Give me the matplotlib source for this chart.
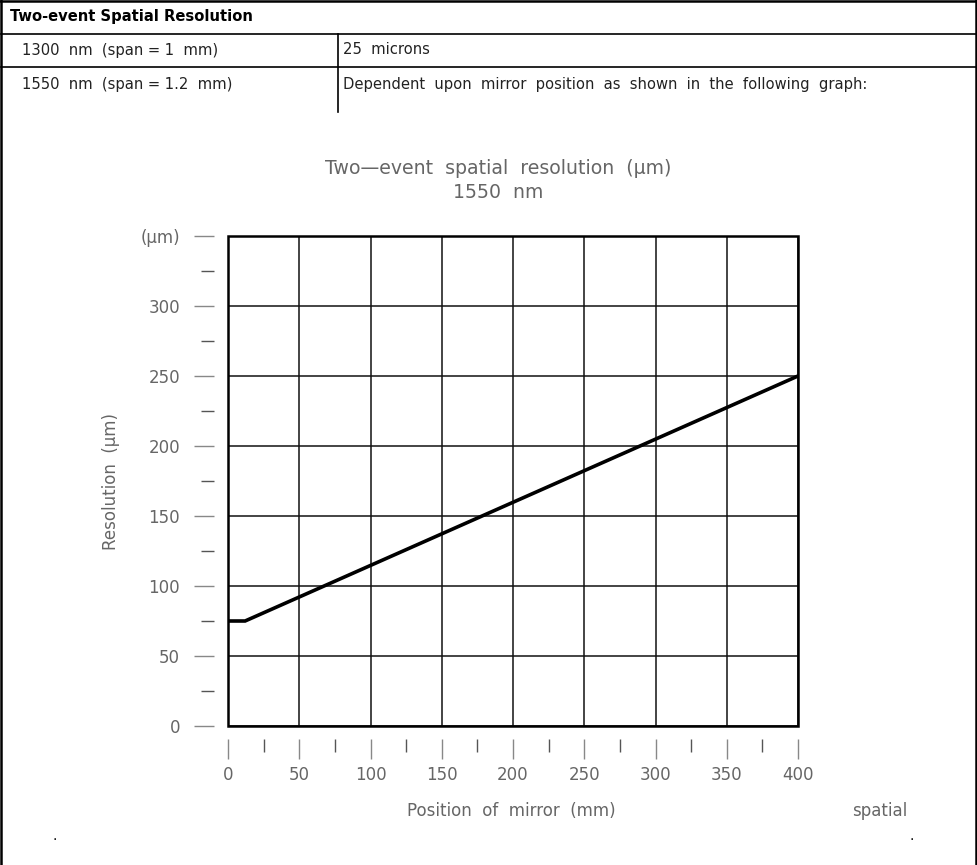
import matplotlib.pyplot as plt
import matplotlib.patches as mpatches
from matplotlib.ticker import MultipleLocator
import numpy as np

# data
position_mm = [0, 12, 400]
resolution_um = [75, 75, 250]

x_ticks = [0, 50, 100, 150, 200, 250, 300, 350, 400]
y_ticks = [0, 50, 100, 150, 200, 250, 300, 350]
y_tick_labels = ["0", "50", "100", "150", "200", "250", "300", "(\u03bcm)"]

table_header = "Two-event Spatial Resolution"
table_rows = [
    ("1300  nm  (span = 1  mm)", "25  microns"),
    ("1550  nm  (span = 1.2  mm)", "Dependent  upon  mirror  position  as  shown  in  the  following  graph:"),
]

W, H = 977, 865
GRAY = "#666666"

fig = plt.figure(figsize=(W / 100, H / 100), dpi=100, facecolor="w")


def fx(px):
    return px / W


def fy(py):
    return 1 - py / H


# table frame and rules (no bottom edge, the page continues)
for xs, ys in [([1, 1], [0, 866]), ([976, 976], [0, 866]), ([0, 977], [1, 1])]:
    fig.add_artist(plt.Line2D([fx(v) for v in xs], [fy(v) for v in ys], transform=fig.transFigure,
                              color="black", linewidth=1.8))
for yy in [34, 67]:
    fig.add_artist(plt.Line2D([fx(1), fx(976)], [fy(yy), fy(yy)], transform=fig.transFigure,
                              color="black", linewidth=1.2))
fig.add_artist(plt.Line2D([fx(338), fx(338)], [fy(34), fy(112)], transform=fig.transFigure,
                          color="black", linewidth=1.2))

fig.text(fx(10), fy(17), table_header, family="DejaVu Sans", stretch="condensed",
         fontweight="bold", fontsize=11.8, va="center", ha="left", color="black")
for i, (left, right) in enumerate(table_rows):
    yy = fy(50 + 34 * i)
    fig.text(fx(22), yy, left, family="DejaVu Sans", stretch="condensed", fontsize=11.8,
             va="center", ha="left", color="#222")
    fig.text(fx(343), yy, right, family="DejaVu Sans", stretch="condensed", fontsize=11.8,
             va="center", ha="left", color="#222")

# graph
ax = fig.add_axes([fx(228), 139 / H, 570 / W, 490 / H])
ax.plot(position_mm, resolution_um, color="black", linewidth=2.6, solid_joinstyle="miter", zorder=3)

ax.set_xlim(0, 400)
ax.set_ylim(0, 350)
ax.set_xticks(x_ticks)
ax.set_xticklabels([str(v) for v in x_ticks])
ax.set_yticks(y_ticks)
ax.set_yticklabels(y_tick_labels)
ax.xaxis.set_minor_locator(MultipleLocator(25))
ax.yaxis.set_minor_locator(MultipleLocator(25))
ax.grid(True, which="major", color="#111111", linewidth=1.1)

for side in ["top", "right", "left", "bottom"]:
    ax.spines[side].set_visible(False)
ax.spines["left"].set_position(("outward", 10))
ax.spines["bottom"].set_position(("outward", 9))
ax.add_patch(mpatches.Rectangle((0, 0), 1, 1, transform=ax.transAxes, fill=False,
                                edgecolor="black", linewidth=1.8, clip_on=False, zorder=4))

ax.tick_params(axis="y", which="major", direction="out", length=14.5, width=1, color="#888",
               pad=10, labelsize=12, labelcolor=GRAY)
ax.tick_params(axis="y", which="minor", direction="out", length=9.5, width=1, color="#555")
ax.tick_params(axis="x", which="major", direction="out", length=14.5, width=1, color="#888",
               pad=5, labelsize=12, labelcolor=GRAY)
ax.tick_params(axis="x", which="minor", direction="out", length=9.5, width=1, color="#555")

ax.set_ylabel("Resolution  (\u03bcm)", fontsize=12, color=GRAY)
ax.yaxis.set_label_coords(-0.19, 0.5)

fig.text(fx(498), fy(168), "Two\u2014event  spatial  resolution  (\u03bcm)", fontsize=13.6,
         color=GRAY, ha="center", va="center")
fig.text(fx(498), fy(193), "1550  nm", fontsize=13.6, color=GRAY, ha="center", va="center")
fig.text(fx(511), fy(811), "Position  of  mirror  (mm)", fontsize=12, color=GRAY,
         ha="center", va="center")
fig.text(fx(880), fy(811), "spatial", fontsize=12, color=GRAY, ha="center", va="center")
fig.text(fx(55), fy(836), ".", fontsize=10, color="black", ha="center", va="center")
fig.text(fx(912), fy(836), ".", fontsize=10, color="black", ha="center", va="center")

fig.savefig("out.png", dpi=100, facecolor="w")
